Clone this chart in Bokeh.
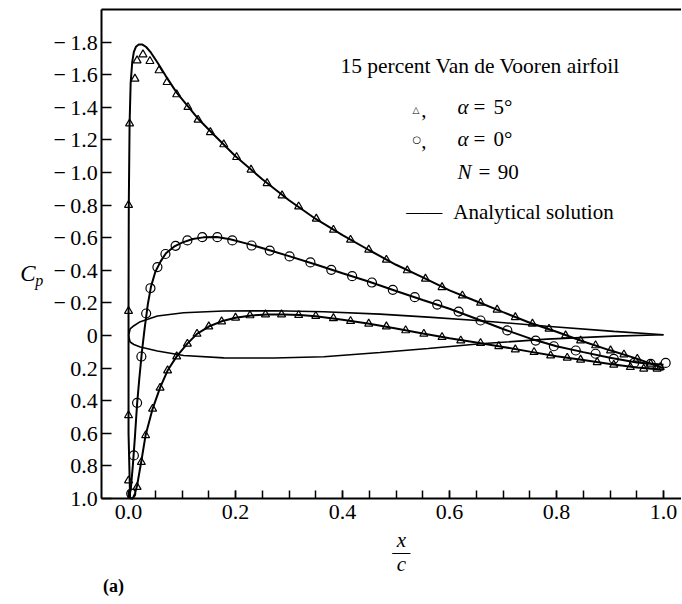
from bokeh.plotting import figure
from bokeh.models import Range1d, FixedTicker, CustomJSTickFormatter, Label, LinearAxis
from bokeh.embed import file_html
from bokeh.resources import INLINE

# ---------------- data ----------------
# alpha = 5 deg, analytical solution, upper surface
a5u_line_x = [0.003, 0.0, 0.0, 0.0005, 0.002, 0.004, 0.007, 0.010, 0.014, 0.019, 0.026, 0.033,
              0.042, 0.055, 0.07, 0.09, 0.11, 0.13, 0.16, 0.2, 0.25, 0.3, 0.35, 0.4, 0.45, 0.5,
              0.55, 0.6, 0.65, 0.7, 0.75, 0.8, 0.85, 0.9, 0.95, 1.0]
a5u_line_cp = [1.0, 0.6, -0.2, -0.8, -1.3, -1.55, -1.68, -1.74, -1.772, -1.785, -1.785, -1.77,
               -1.735, -1.67, -1.59, -1.49, -1.41, -1.33, -1.23, -1.1, -0.959, -0.83, -0.715,
               -0.616, -0.523, -0.434, -0.356, -0.277, -0.21, -0.143, -0.078, -0.023, 0.037,
               0.091, 0.142, 0.2]
# alpha = 5 deg, analytical solution, lower surface
a5l_line_x = [0.003, 0.008, 0.012, 0.016, 0.024, 0.032, 0.045, 0.059, 0.073, 0.09, 0.11, 0.128,
              0.15, 0.174, 0.2, 0.23, 0.26, 0.29, 0.32, 0.35, 0.4, 0.45, 0.5, 0.55, 0.6, 0.65,
              0.7, 0.75, 0.8, 0.85, 0.9, 0.95, 1.0]
a5l_line_cp = [1.0, 1.0, 0.97, 0.92, 0.77, 0.61, 0.45, 0.32, 0.215, 0.128, 0.05, -0.01, -0.055,
               -0.087, -0.109, -0.123, -0.129, -0.129, -0.125, -0.118, -0.097, -0.072, -0.043,
               -0.012, 0.017, 0.043, 0.07, 0.099, 0.127, 0.151, 0.175, 0.196, 0.21]
# alpha = 0 deg, analytical solution
a0_line_x = [0.0, 0.004, 0.008, 0.012, 0.016, 0.02, 0.025, 0.03, 0.036, 0.042, 0.05, 0.06, 0.07,
             0.085, 0.1, 0.12, 0.14, 0.165, 0.19, 0.23, 0.27, 0.3, 0.35, 0.4, 0.45, 0.5, 0.55,
             0.6, 0.65, 0.7, 0.75, 0.8, 0.85, 0.9, 0.95, 1.0]
a0_line_cp = [1.0, 0.95, 0.8, 0.62, 0.42, 0.27, 0.1, -0.04, -0.19, -0.3, -0.39, -0.455, -0.505,
              -0.545, -0.57, -0.592, -0.602, -0.604, -0.59, -0.556, -0.517, -0.487, -0.436,
              -0.382, -0.33, -0.273, -0.218, -0.164, -0.103, -0.04, 0.018, 0.066, 0.102, 0.136,
              0.165, 0.18]

# alpha = 5 deg, panel method (N = 90), upper surface
a5u_pts_x = [0.0, 0.0, 0.0, 0.0, 0.002, 0.012, 0.016, 0.027, 0.040, 0.057, 0.072, 0.090, 0.111,
             0.130, 0.153, 0.178, 0.202, 0.229, 0.259, 0.287, 0.318, 0.351, 0.383, 0.415, 0.449,
             0.482, 0.521, 0.555, 0.586, 0.624, 0.658, 0.689, 0.723, 0.755, 0.786, 0.817, 0.845,
             0.873, 0.901, 0.926, 0.951, 0.976, 0.994]
a5u_pts_cp = [0.89, 0.49, -0.15, -0.80, -1.30, -1.575, -1.687, -1.724, -1.683, -1.626, -1.554,
              -1.479, -1.401, -1.323, -1.247, -1.172, -1.094, -1.017, -0.934, -0.859, -0.791,
              -0.716, -0.648, -0.587, -0.526, -0.464, -0.399, -0.348, -0.296, -0.245, -0.200,
              -0.158, -0.112, -0.072, -0.041, 0.0, 0.031, 0.061, 0.092, 0.117, 0.143, 0.174, 0.194]
# alpha = 5 deg, panel method, lower surface
a5l_pts_x = [0.016, 0.024, 0.032, 0.045, 0.059, 0.073, 0.090, 0.110, 0.128, 0.150, 0.174, 0.200,
             0.227, 0.256, 0.286, 0.318, 0.350, 0.383, 0.415, 0.449, 0.482, 0.518, 0.552, 0.586,
             0.621, 0.658, 0.692, 0.723, 0.758, 0.789, 0.820, 0.845, 0.876, 0.907, 0.938, 0.963,
             0.988]
a5l_pts_cp = [0.93, 0.777, 0.613, 0.45, 0.321, 0.215, 0.129, 0.051, -0.010, -0.055, -0.086,
              -0.109, -0.123, -0.129, -0.129, -0.125, -0.119, -0.106, -0.088, -0.072, -0.055,
              -0.031, -0.010, 0.010, 0.031, 0.047, 0.066, 0.086, 0.102, 0.123, 0.137, 0.149,
              0.164, 0.180, 0.194, 0.204, 0.204]
# alpha = 0 deg, panel method
a0_pts_x = [0.005, 0.010, 0.016, 0.024, 0.033, 0.041, 0.054, 0.069, 0.088, 0.110, 0.138, 0.166,
            0.194, 0.230, 0.264, 0.301, 0.340, 0.379, 0.418, 0.455, 0.494, 0.535, 0.577, 0.617,
            0.658, 0.708, 0.761, 0.795, 0.836, 0.873, 0.907, 0.945, 0.976, 1.004]
a0_pts_cp = [0.97, 0.736, 0.413, 0.129, -0.135, -0.29, -0.42, -0.50, -0.55, -0.583, -0.603,
             -0.603, -0.583, -0.552, -0.521, -0.485, -0.448, -0.403, -0.364, -0.325, -0.280,
             -0.235, -0.190, -0.147, -0.092, -0.031, 0.031, 0.066, 0.092, 0.112, 0.143, 0.168,
             0.174, 0.168]

# airfoil contour (drawn in the Cp frame)
foil_up_x = [0.0, 0.003, 0.01, 0.022, 0.054, 0.103, 0.178, 0.272, 0.365, 0.47, 0.56, 0.658,
             0.782, 0.907, 1.0]
foil_up_y = [0.0, -0.04, -0.06, -0.085, -0.12, -0.14, -0.15, -0.152, -0.146, -0.131, -0.113,
             -0.09, -0.057, -0.025, -0.005]
foil_lo_x = [0.0, 0.003, 0.01, 0.022, 0.054, 0.103, 0.178, 0.272, 0.365, 0.47, 0.56, 0.658,
             0.782, 0.907, 1.0]
foil_lo_y = [0.0, 0.04, 0.055, 0.07, 0.095, 0.123, 0.137, 0.138, 0.13, 0.104, 0.08, 0.051,
             0.022, 0.004, -0.005]

x_ticks = [0.0, 0.2, 0.4, 0.6, 0.8, 1.0]
x_minor = [round(0.05 * i, 2) for i in range(21)]
y_ticks = [-1.8, -1.6, -1.4, -1.2, -1.0, -0.8, -0.6, -0.4, -0.2, 0.0, 0.2, 0.4, 0.6, 0.8, 1.0]

SERIF = "Liberation Serif"

# plot box limits (data units)
X_LEFT, X_RIGHT = -0.05, 1.0336
CP_TOP, CP_BOTTOM = -2.0, 1.0

# ---------------- figure ----------------
p = figure(width=681, height=603, output_backend="svg", toolbar_location=None,
           x_range=Range1d(-0.2393, 1.0336), y_range=Range1d(1.6442, -2.0552),
           x_axis_location=None, y_axis_location=None,
           min_border_left=0, min_border_right=0, min_border_top=0, min_border_bottom=0)
p.outline_line_color = None
p.grid.grid_line_color = None
p.background_fill_color = "white"
p.border_fill_color = "white"

xa = LinearAxis(fixed_location=CP_BOTTOM, bounds=(X_LEFT, X_RIGHT))
ya = LinearAxis(fixed_location=X_LEFT, bounds=(CP_TOP, CP_BOTTOM))
ta = LinearAxis(fixed_location=CP_TOP, bounds=(X_LEFT, X_RIGHT))
p.add_layout(xa, "below")
p.add_layout(ya, "left")
p.add_layout(ta, "above")

xa.ticker = FixedTicker(ticks=x_ticks, minor_ticks=x_minor)
ya.ticker = FixedTicker(ticks=y_ticks)
xa.formatter = CustomJSTickFormatter(code="return tick.toFixed(1);")
ya.formatter = CustomJSTickFormatter(
    code="if (Math.abs(tick) < 1e-9) return '0';"
         "return tick < 0 ? '\u2212\u2009' + (-tick).toFixed(1) : tick.toFixed(1);")
for ax in (xa, ya, ta):
    ax.axis_line_width = 2
    ax.axis_line_color = "black"
    ax.major_tick_out = 0
    ax.major_tick_line_width = 1.5
    ax.major_tick_line_color = "black"
    ax.major_label_text_font = SERIF
    ax.major_label_text_font_size = "22px"
    ax.major_label_text_color = "black"
xa.major_tick_in = 8
xa.minor_tick_in = 8
xa.minor_tick_out = 0
xa.minor_tick_line_width = 1.5
xa.minor_tick_line_color = "black"
xa.major_label_standoff = 7
ya.major_tick_in = 10
ya.minor_tick_line_color = None
ya.major_label_standoff = 4
ta.ticker = FixedTicker(ticks=[])
ta.major_tick_line_color = None
ta.minor_tick_line_color = None
ta.major_label_text_font_size = "0px"

# curves
lw = 2
p.line(foil_up_x, foil_up_y, line_color="black", line_width=1.6)
p.line(foil_lo_x, foil_lo_y, line_color="black", line_width=1.6)
p.line(a5u_line_x, a5u_line_cp, line_color="black", line_width=lw)
p.line(a5l_line_x, a5l_line_cp, line_color="black", line_width=lw)
p.line(a0_line_x, a0_line_cp, line_color="black", line_width=lw)

p.scatter(a5u_pts_x, a5u_pts_cp, marker="triangle", size=8, fill_color=None,
          line_color="black", line_width=1.2)
p.scatter(a5l_pts_x, a5l_pts_cp, marker="triangle", size=8, fill_color=None,
          line_color="black", line_width=1.2)
p.scatter(a0_pts_x, a0_pts_cp, marker="circle", size=9, fill_color=None,
          line_color="black", line_width=1.2)

def lab(x, y, text, size="21px", style="normal", align="left", font=SERIF):
    p.add_layout(Label(x=x, y=y, text=text, text_font=font, text_font_size=size,
                       text_font_style=style, text_align=align, text_baseline="middle",
                       text_color="black"))

# legend block
lab(0.396, -1.656, "15 percent Van de Vooren airfoil", size="21.5px")
lab(0.531, -1.385, "\u25b3", size="9px", font="DejaVu Sans")
lab(0.547, -1.385, ",")
lab(0.615, -1.401, "\u03b1", style="italic")
lab(0.645, -1.401, "=")
lab(0.682, -1.401, "5\u00b0")
lab(0.531, -1.204, "\u25cb", size="10px", font="DejaVu Sans")
lab(0.547, -1.195, ",")
lab(0.615, -1.207, "\u03b1", style="italic")
lab(0.645, -1.207, "=")
lab(0.682, -1.207, "0\u00b0")
lab(0.615, -1.002, "N", style="italic")
lab(0.654, -1.002, "=")
lab(0.690, -1.002, "90")
lab(0.519, -0.760, "\u2014\u2014", size="18px")
lab(0.607, -0.756, "Analytical solution")

# axis labels
lab(-0.188, -0.380, "C", size="23px", style="italic", align="center")
lab(-0.167, -0.337, "p", size="16px", style="italic", align="center")
lab(0.510, 1.252, "x", size="21px", style="italic", align="center")
lab(0.510, 1.330, "\u2014", size="18px", align="center")
lab(0.510, 1.400, "c", size="21px", style="italic", align="center")
lab(-0.028, 1.535, "(a)", size="18px", style="bold", align="center")

open("out.html", "w").write(file_html(p, INLINE))
